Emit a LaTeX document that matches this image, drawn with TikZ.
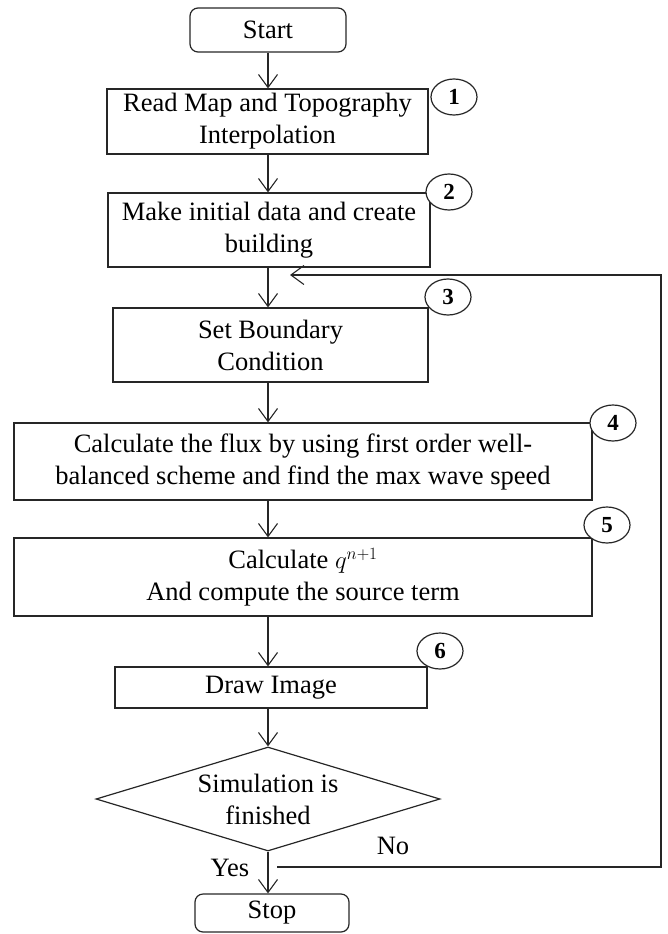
\documentclass[tikz,border=0pt]{standalone}
\usepackage{fontspec}
\setmainfont{Liberation Serif}
\usepackage{tikz}
\usetikzlibrary{arrows.meta,shapes.geometric}
\definecolor{ink}{HTML}{262626}
\tikzset{
  procBox/.style={draw=ink, line width=1.2pt, inner sep=0pt, align=center, font=\fontsize{26.5}{32}\selectfont},
  termBox/.style={procBox, rounded corners=8pt},
  decBox/.style={procBox, diamond, aspect=3.3},
  stepNum/.style={draw=ink, fill=white, ellipse, line width=1.2pt, minimum width=46pt, minimum height=36pt, inner sep=0pt, font=\fontsize{23}{23}\selectfont\bfseries},
  arr/.style={draw=ink, line width=1.1pt, -{Straight Barb[length=13pt,width=19pt]}},
  lab/.style={text=black, font=\fontsize{26.5}{32}\selectfont}
}

\begin{document}
\begin{tikzpicture}[x=1pt,y=-1pt]
  \useasboundingbox (0,0) rectangle (667,934);

  \coordinate (spine) at (268,0);
  \coordinate (rightEdge) at (661,0);
  \coordinate (noOut) at (277,867);
  \coordinate (noIn) at (290,275);

  \node[termBox, minimum width=156pt, minimum height=44pt] (start) at (268,30) {Start};
  \node[procBox, minimum width=321pt, minimum height=65pt] (read) at (267.5,121.5) {Read Map and Topography\\Interpolation};
  \node[procBox, minimum width=322pt, minimum height=74pt] (init) at (269,230) {Make initial data and create\\building};
  \node[procBox, minimum width=315pt, minimum height=74pt] (bound) at (270.5,345) {Set Boundary\\Condition};
  \node[procBox, minimum width=578pt, minimum height=77pt] (flux) at (303,461.5) {Calculate the flux by using first order well-\\balanced scheme and find the max wave speed};
  \node[procBox, minimum width=578pt, minimum height=78pt] (calc) at (303,577) {Calculate $q^{n+1}$\\And compute the source term};
  \node[procBox, minimum width=312pt, minimum height=41pt] (image) at (271,687.5) {Draw Image};
  \node[decBox, minimum width=344pt, minimum height=104pt] (sim) at (268,799) {Simulation is\\finished};
  \node[termBox, minimum width=154pt, minimum height=38pt] (stop) at (272,913) {Stop};

  \node[stepNum] (num1) at (454,97) {1};
  \node[stepNum] (num2) at (449,192) {2};
  \node[stepNum] (num3) at (448,297) {3};
  \node[stepNum] (num4) at (613,423) {4};
  \node[stepNum] (num5) at (607,525) {5};
  \node[stepNum] (num6) at (440,651) {6};

  \draw[arr] (spine |- start.south) -- (spine |- read.north);
  \draw[arr] (spine |- read.south) -- (spine |- init.north);
  \draw[arr] (spine |- init.south) -- (spine |- bound.north);
  \draw[arr] (spine |- bound.south) -- (spine |- flux.north);
  \draw[arr] (spine |- flux.south) -- (spine |- calc.north);
  \draw[arr] (spine |- calc.south) -- (spine |- image.north);
  \draw[arr] (spine |- image.south) -- (spine |- sim.north);
  \draw[arr] (spine |- sim.south) -- (spine |- stop.north);

  % loop back when not finished
  \draw[arr] (noOut) -- (noOut -| rightEdge) -- (noIn -| rightEdge) -- (noIn);

  \node[lab] (yes) at (230,868) {Yes};
  \node[lab] (no) at (393,846) {No};
\end{tikzpicture}
\end{document}
